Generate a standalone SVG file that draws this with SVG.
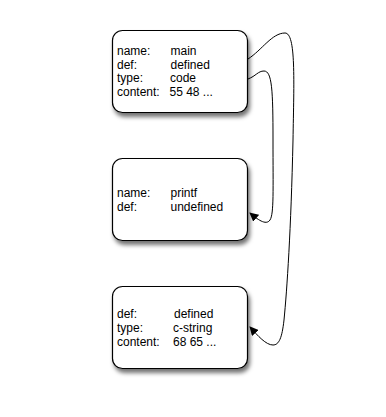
<svg xmlns="http://www.w3.org/2000/svg" width="386" height="417" viewBox="0 0 386 417">
<defs>
<filter id="sh" x="-20%" y="-20%" width="140%" height="150%">
<feDropShadow dx="2" dy="4" stdDeviation="2.2" flood-color="#000" flood-opacity="0.55"/>
</filter>
<marker id="ah" viewBox="0 0 10 10" refX="9" refY="5" markerWidth="9" markerHeight="9" markerUnits="userSpaceOnUse" orient="auto">
<path d="M0,0 L10,5 L0,10 z" fill="#000"/>
</marker>
</defs>
<style>
.box{fill:#fff;stroke:#000;stroke-width:1.2;filter:url(#sh)}
text{font-family:"Liberation Sans",Arial,sans-serif;font-size:12px;fill:#000}
.c{fill:none;stroke:#000;stroke-width:1;marker-end:url(#ah)}
</style>
<rect width="386" height="417" fill="#fff"/>
<g id="node-main">
<rect class="box" x="112.5" y="30.5" width="135" height="82" rx="10"/>
<text x="117" y="55">name:</text><text x="170.5" y="55">main</text>
<text x="117" y="68.7">def:</text><text x="170.5" y="68.7">defined</text>
<text x="117" y="82.4">type:</text><text x="170" y="82.4">code</text>
<text x="117" y="96.1">content:</text><text x="169.5" y="96.1">55 48 ...</text>
</g>
<g id="node-printf">
<rect class="box" x="112.5" y="158.5" width="135" height="82" rx="10"/>
<text x="117" y="196.7">name:</text><text x="170.5" y="196.7">printf</text>
<text x="117" y="210.5">def:</text><text x="170.5" y="210.5">undefined</text>
</g>
<g id="node-string">
<rect class="box" x="112.5" y="286.5" width="135" height="82" rx="10"/>
<text x="117" y="317.5">def:</text><text x="174" y="317.5">defined</text>
<text x="117" y="331.5">type:</text><text x="173" y="331.5">c-string</text>
<text x="117" y="345.5">content:</text><text x="173" y="345.5">68 65 ...</text>
</g>
<g id="connectors">
<path class="c" d="M248,59 C262,50 272,33 285,33 C296,33 294,80 293,140 C291,230 287,290 284,320 C282,338 279,345 273,345 C266,345 258,336 250,327"/>
<path class="c" d="M248,79 C256,76 258,71 264,71 C272,71 273,90 273,140 C273,190 274,214 270,220 C266,226 257,219 250,213"/>
</g>
</svg>
